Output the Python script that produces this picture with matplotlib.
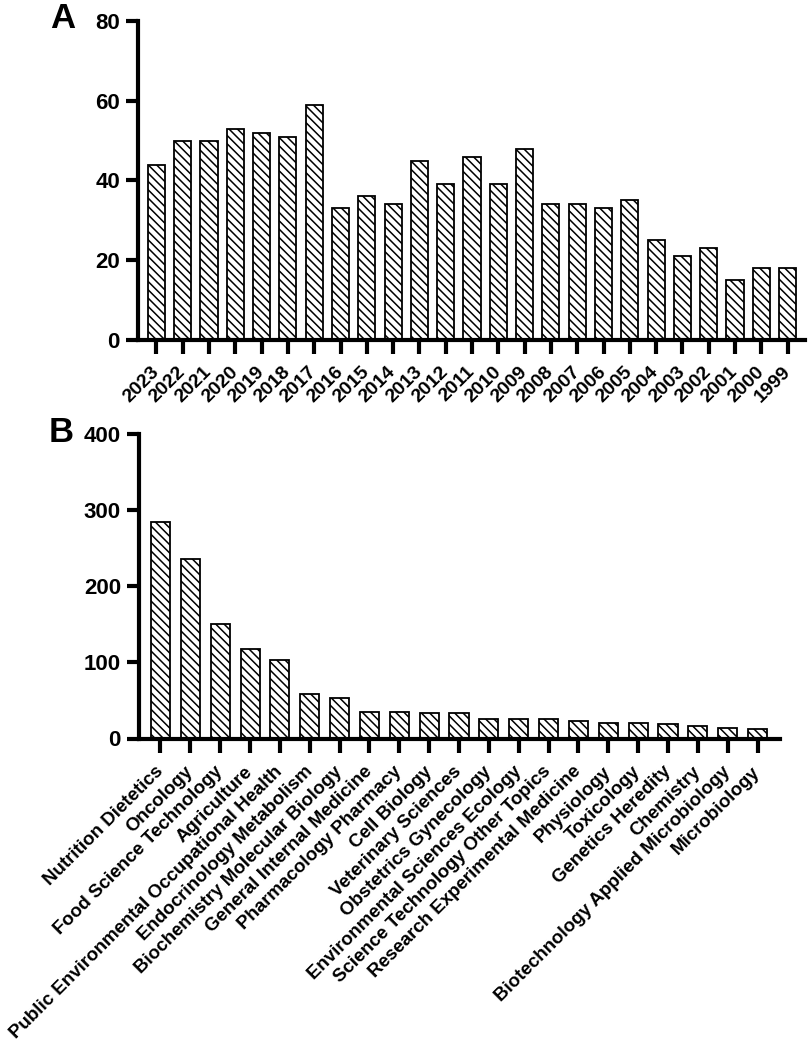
import matplotlib.pyplot as plt
import numpy as np

plt.rcParams['font.family'] = ['Liberation Sans', 'DejaVu Sans']
plt.rcParams['font.weight'] = 'bold'
plt.rcParams['hatch.linewidth'] = 1.1

# panel A: publications per year
years = ['2023', '2022', '2021', '2020', '2019', '2018', '2017', '2016', '2015',
         '2014', '2013', '2012', '2011', '2010', '2009', '2008', '2007', '2006',
         '2005', '2004', '2003', '2002', '2001', '2000', '1999']
year_counts = [44, 50, 50, 53, 52, 51, 59, 33, 36, 34, 45, 39, 46, 39, 48,
               34, 34, 33, 35, 25, 21, 23, 15, 18, 18]

# panel B: research areas
categories = ['Nutrition Dietetics', 'Oncology', 'Food Science Technology',
              'Agriculture', 'Public Environmental Occupational Health',
              'Endocrinology Metabolism', 'Biochemistry Molecular Biology',
              'General Internal Medicine', 'Pharmacology Pharmacy',
              'Cell Biology', 'Veterinary Sciences', 'Obstetrics Gynecology',
              'Environmental Sciences Ecology', 'Science Technology Other Topics',
              'Research Experimental Medicine', 'Physiology', 'Toxicology',
              'Genetics Heredity', 'Chemistry', 'Biotechnology Applied Microbiology',
              'Microbiology']
category_counts = [285, 236, 150, 117, 103, 58, 53, 35, 35, 34, 33, 26, 25, 25,
                   23, 20, 20, 19, 17, 14, 12]

W, H = 809, 1047
fig = plt.figure(figsize=(W / 100, H / 100), dpi=100)


def make_axes(left, right, top, bottom):
    return fig.add_axes([left / W, 1 - bottom / H, (right - left) / W, (bottom - top) / H])


def style(ax, ymax, step):
    for s in ['top', 'right']:
        ax.spines[s].set_visible(False)
    for s in ['left', 'bottom']:
        ax.spines[s].set_linewidth(3)
    ax.set_ylim(0, ymax)
    ax.set_yticks(np.arange(0, ymax + 1, step))
    ax.tick_params(axis='y', direction='out', length=9, width=3, labelsize=16, pad=4)
    ax.tick_params(axis='x', direction='out', length=10, width=3)
    for lab in ax.get_yticklabels():
        lab.set_fontweight('bold')


def draw_bars(ax, labels, values, width, size, pad):
    x = np.arange(len(labels))
    ax.bar(x, values, width=width, color='white', edgecolor='black',
           linewidth=1.3, hatch='\\\\\\\\')
    ax.set_xticks(x)
    ax.set_xticklabels(labels, rotation=45, ha='right', va='center',
                       rotation_mode='anchor', fontweight='bold', fontsize=size)
    ax.tick_params(axis='x', pad=pad)


axA = make_axes(138, 805, 21, 340)
draw_bars(axA, years, year_counts, 0.65, 14, 11)
axA.set_xlim(-0.7, len(years) - 1 + 0.66)
style(axA, 80, 20)

axB = make_axes(139, 780, 434, 738.5)
draw_bars(axB, categories, category_counts, 0.64, 13.5, 12)
axB.set_xlim(-0.72, len(categories) - 1 + 0.75)
style(axB, 400, 100)

fig.text(50 / W, 1 - 28 / H, 'A', fontsize=25, fontweight='bold')
fig.text(49 / W, 1 - 442 / H, 'B', fontsize=25, fontweight='bold')

fig.savefig('out.png', dpi=100)
